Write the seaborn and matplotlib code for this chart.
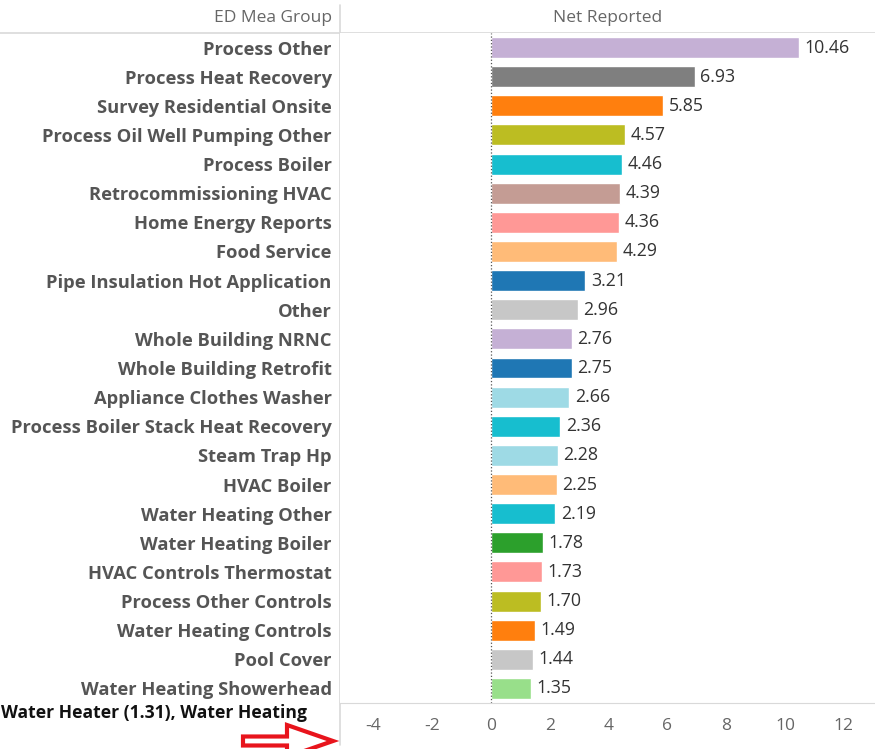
import numpy as np
import pandas as pd
import seaborn as sns
import matplotlib.pyplot as plt
import matplotlib.patches as mpatches

# Données
groups = [
    "Process Other", "Process Heat Recovery", "Survey Residential Onsite",
    "Process Oil Well Pumping Other", "Process Boiler", "Retrocommissioning HVAC",
    "Home Energy Reports", "Food Service", "Pipe Insulation Hot Application",
    "Other", "Whole Building NRNC", "Whole Building Retrofit",
    "Appliance Clothes Washer", "Process Boiler Stack Heat Recovery", "Steam Trap Hp",
    "HVAC Boiler", "Water Heating Other", "Water Heating Boiler",
    "HVAC Controls Thermostat", "Process Other Controls", "Water Heating Controls",
    "Pool Cover", "Water Heating Showerhead",
]
net_reported = [10.46, 6.93, 5.85, 4.57, 4.46, 4.39, 4.36, 4.29, 3.21, 2.96, 2.76,
                2.75, 2.66, 2.36, 2.28, 2.25, 2.19, 1.78, 1.73, 1.70, 1.49, 1.44, 1.35]
bar_colors = ["#c5b0d5", "#7f7f7f", "#ff7f0e", "#bcbd22", "#17becf", "#c49c94",
              "#ff9896", "#ffbb78", "#1f77b4", "#c7c7c7", "#c5b0d5", "#1f77b4",
              "#9edae5", "#17becf", "#9edae5", "#ffbb78", "#17becf", "#2ca02c",
              "#ff9896", "#bcbd22", "#ff7f0e", "#c7c7c7", "#98df8a"]
x_ticks = [-4, -2, 0, 2, 4, 6, 8, 10, 12]
note_text = "Water Heater (1.31), Water Heating"

df = pd.DataFrame({"group": groups, "value": net_reported})

sns.set_style("white")
plt.rcParams["font.family"] = ["Open Sans", "DejaVu Sans"]

W, H = 875, 749
fig = plt.figure(figsize=(W / 100, H / 100), dpi=100)
ax = fig.add_axes([340 / W, (H - 703) / H, (W - 340) / W, (703 - 33) / H])

sns.barplot(data=df, x="value", y="group", hue="group", palette=bar_colors,
            legend=False, width=0.72, saturation=1, ax=ax, orient="h")

for c in ax.containers:
    ax.bar_label(c, fmt="%.2f", padding=4, fontsize=12.8, color="#333333")

ax.set_xlim(-5.13, 13.06)
ax.set_ylim(len(groups) - 0.5, -0.5)
ax.set_xticks(x_ticks)
ax.set_xticklabels([str(t) for t in x_ticks], fontsize=12.5, color="#666666")
ax.set_yticks(range(len(groups)))
ax.set_yticklabels(groups, fontsize=13.2, fontweight="bold", color="#555555")
ax.tick_params(axis="y", length=0, pad=6)
ax.tick_params(axis="x", length=5, width=1, color="#d9d9d9", pad=6, direction="out")
ax.set_xlabel("")
ax.set_ylabel("")
for s in ["top", "right", "left"]:
    ax.spines[s].set_visible(False)
ax.spines["bottom"].set_color("#d9d9d9")
ax.axvline(0, ls=":", color="#555555", lw=0.9)

# Calque en pixels pour les en-têtes et l'annotation
ov = fig.add_axes([0, 0, 1, 1], zorder=-1)
ov.set_xlim(0, W)
ov.set_ylim(H, 0)
ov.axis("off")
ov.plot([0, W], [33, 33], color="#d9d9d9", lw=1.2)
ov.plot([340, 340], [5, 745], color="#d9d9d9", lw=1.2)
ov.text(332, 18, "ED Mea Group", ha="right", va="center", fontsize=12.5, color="#666666")
ov.text(608, 18, "Net Reported", ha="center", va="center", fontsize=12.5, color="#666666")

ov2 = fig.add_axes([0, 0, 1, 1], zorder=5)
ov2.set_xlim(0, W)
ov2.set_ylim(H, 0)
ov2.axis("off")
ov2.patch.set_alpha(0)
ov2.text(1, 713, note_text, ha="left", va="center", fontsize=12.6,
         fontweight="bold", color="#111111")
arrow = mpatches.FancyArrow(243, 741, 90, 0, width=9, head_width=32, head_length=46,
                            length_includes_head=True, facecolor="white",
                            edgecolor="#e8141c", lw=3)
ov2.add_patch(arrow)

fig.savefig("out.png", dpi=100)
